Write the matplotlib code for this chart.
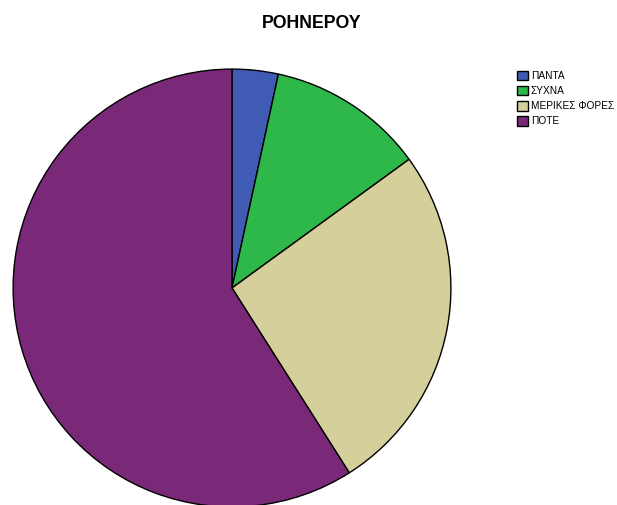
import matplotlib.pyplot as plt

# pie values (percent)
labels = ['ΠΑΝΤΑ', 'ΣΥΧΝΑ', 'ΜΕΡΙΚΕΣ ΦΟΡΕΣ', 'ΠΟΤΕ']
values = [3.4, 11.6, 26.0, 59.0]
colors = ['#3F5BB3', '#2EB84A', '#D4CF9B', '#7A2878']

plt.rcParams['font.family'] = ['Liberation Sans', 'DejaVu Sans']

fig = plt.figure(figsize=(6.17, 5.05), dpi=100)
ax = fig.add_axes([12 / 617, -3 / 505, 440 / 617, 440 / 505])

wedges, _ = ax.pie(values, colors=colors, startangle=90, counterclock=False,
                   radius=1.0, wedgeprops=dict(edgecolor='black', linewidth=1.0))
ax.set_xlim(-1.005, 1.005)
ax.set_ylim(-1.005, 1.005)
ax.set_aspect('equal')
ax.axis('off')

fig.text(312 / 617, 1 - 23 / 505, 'ΡΟΗΝΕΡΟΥ', ha='center', va='center',
         fontsize=12.8, fontweight='bold')

fig.legend(wedges, labels, loc='upper left', bbox_to_anchor=(513 / 617, 1 - 67 / 505),
           frameon=False, fontsize=7.3, handlelength=1.05, handleheight=1.05,
           handletextpad=0.3, labelspacing=0.48, borderaxespad=0)

fig.savefig('out.png', dpi=100)
